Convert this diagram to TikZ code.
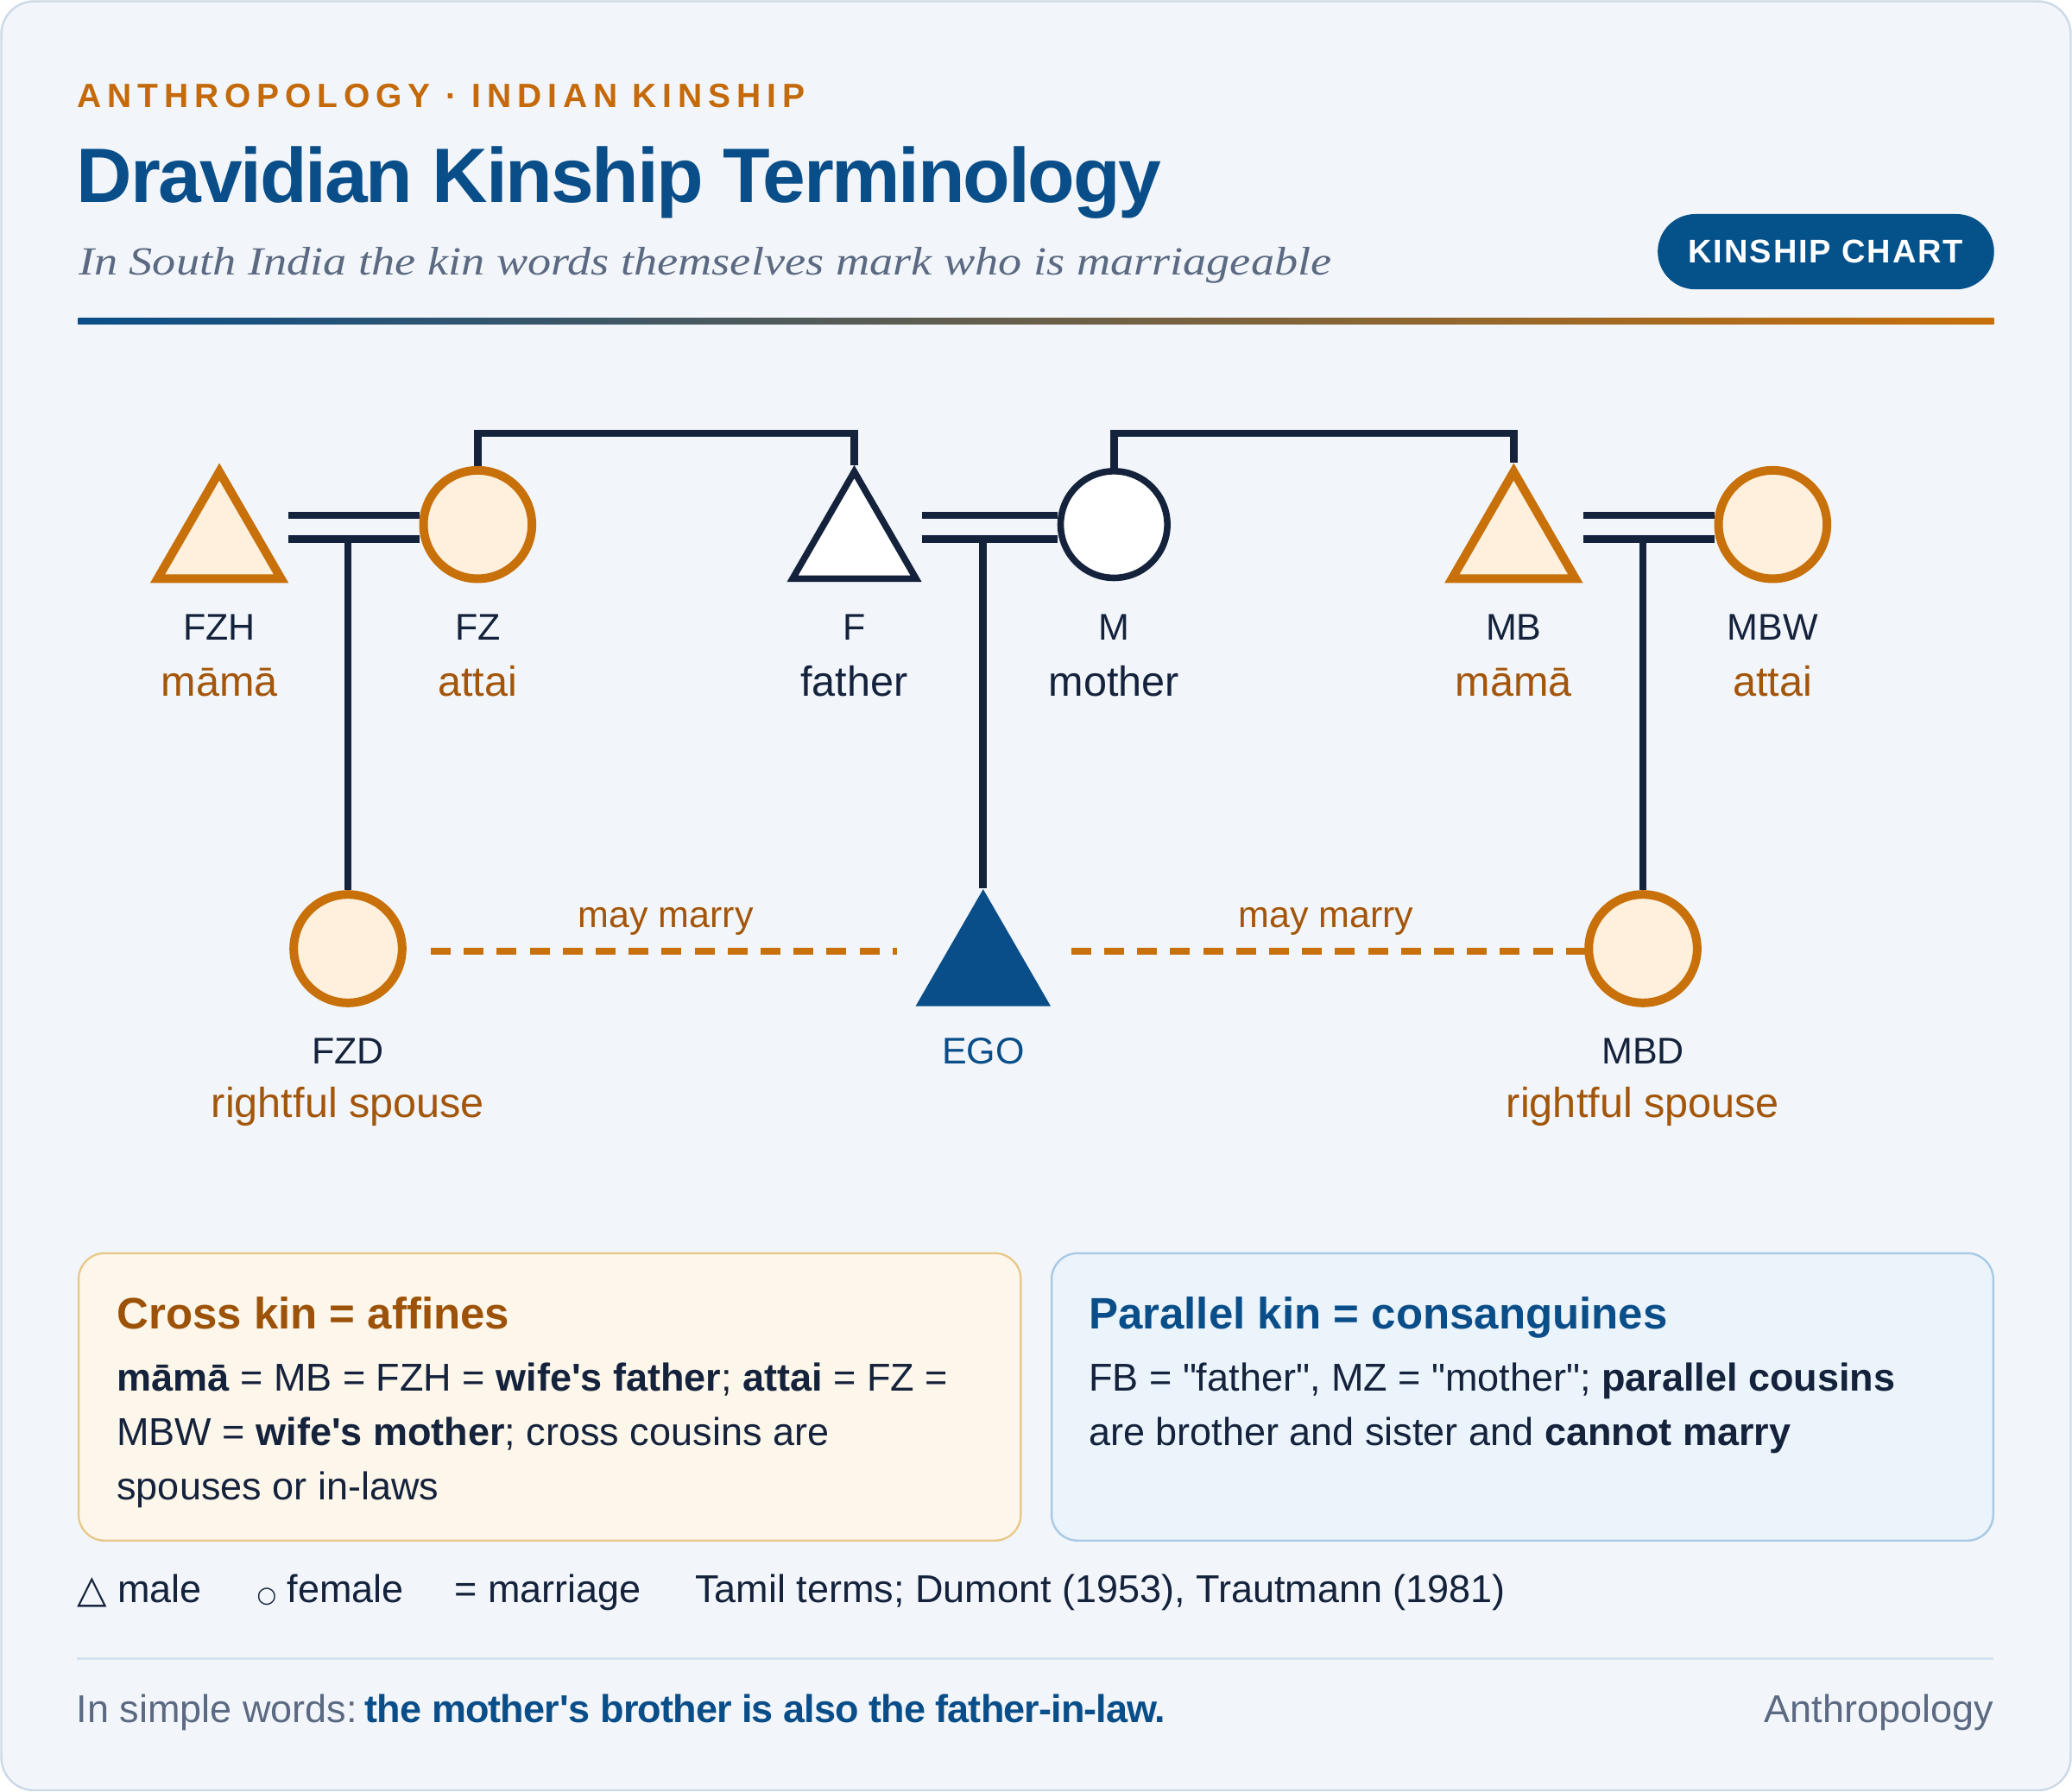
\documentclass[tikz,border=0pt]{standalone}
\usepackage{fontspec}
\usetikzlibrary{shapes.geometric,calc}
\setmainfont{Liberation Sans}
\newfontfamily\serifit{Liberation Serif}[FakeStretch=1.175]
\newfontfamily\djv{DejaVu Sans}
\definecolor{navy}{HTML}{14223C}
\definecolor{tblue}{HTML}{0A4E89}
\definecolor{orng}{HTML}{C8700A}
\definecolor{orfill}{HTML}{FEF0DD}
\definecolor{brn}{HTML}{A3560B}
\definecolor{eyeor}{HTML}{C46A0A}
\definecolor{subgray}{HTML}{5B6A82}
\definecolor{cardbg}{HTML}{F2F6FA}
\definecolor{cardln}{HTML}{CCD9E6}
\definecolor{xfill}{HTML}{FDF6EA}
\definecolor{xline}{HTML}{E8C98C}
\definecolor{xhead}{HTML}{9C5208}
\definecolor{pfill}{HTML}{EBF3FB}
\definecolor{pline}{HTML}{A9C9E6}
\definecolor{sepc}{HTML}{D5E3F1}
\definecolor{badgec}{HTML}{05518A}
\pgfdeclarelayer{bg}
\pgfsetlayers{bg,main}
\begin{document}
\begin{tikzpicture}[x=0.7653pt,y=-0.7653pt,
  txt/.style={inner sep=0pt, outer sep=0pt},
  conn/.style={draw=navy, line width=4.4pt},
  dashline/.style={draw=orng, line width=4pt, dash pattern=on 11.5pt off 7.6pt},
  male/.style={regular polygon, regular polygon sides=3, minimum size=82.6pt, inner sep=0pt},
  fem/.style={circle, minimum size=62.8pt, inner sep=0pt},
  crossp/.style={draw=orng, fill=orfill, line width=5pt},
  parap/.style={draw=navy, fill=white, line width=3.8pt},
  code/.style={txt, anchor=base, font=\fontsize{21.5pt}{24pt}\selectfont, text=navy},
  term/.style={txt, anchor=base, font=\fontsize{24.3pt}{28pt}\selectfont, text=brn},
  body/.style={txt, anchor=base west, font=\fontsize{22.5pt}{28pt}\selectfont, text=navy},
  head/.style={txt, anchor=base west, font=\fontsize{25.5pt}{30pt}\selectfont\bfseries},
  marry/.style={txt, anchor=base, font=\fontsize{21.5pt}{24pt}\selectfont, text=brn}
]
\useasboundingbox (0,0) rectangle (1568,1356);
\begin{pgfonlayer}{bg}
  \fill[white] (0,0) rectangle (1568,1356);
  \draw[draw=cardln, fill=cardbg, line width=1.2pt, rounded corners=19pt] (1,1) rectangle (1567,1355);
\end{pgfonlayer}

% header
\node[txt, anchor=base west, text=eyeor, font=\fontsize{19.5pt}{22pt}\selectfont\bfseries\addfontfeature{LetterSpace=17.5}] (eyebrow) at (58.7,81.2) {ANTHROPOLOGY · INDIAN KINSHIP};
\node[txt, anchor=base west, text=tblue, font=\fontsize{44.7pt}{50pt}\selectfont\bfseries\addfontfeature{LetterSpace=-2.5}] (title) at (58,153.5) {Dravidian Kinship Terminology};
\node[txt, anchor=base west, text=subgray, font=\serifit\itshape\fontsize{23.1pt}{28pt}\selectfont] (subtitle) at (59.5,207.8) {In South India the kin words themselves mark who is marriageable};
\node[fill=badgec, rounded corners=21.8pt, minimum width=194.8pt, minimum height=43.6pt, inner sep=0pt, text=white, font=\fontsize{19pt}{22pt}\selectfont\bfseries\addfontfeature{LetterSpace=5}] (badge) at (1381.75,190.5) {KINSHIP CHART};
\shade[left color=tblue, right color=orng] (59,241) rectangle (1509,245.5);

% persons
\node[male,crossp] (FZH) at (166,411) {};
\node[fem,crossp] (FZ) at (361.5,397) {};
\node[male,parap] (F) at (646.5,411) {};
\node[fem,parap,minimum size=61.8pt] (M) at (843,397) {};
\node[male,crossp] (MB) at (1145.5,411) {};
\node[fem,crossp] (MBW) at (1341.5,397) {};
\node[fem,crossp] (FZD) at (263.3,718) {};
\node[male,fill=tblue,minimum size=90.3pt] (EGO) at (744,732) {};
\node[fem,crossp] (MBD) at (1243.3,718) {};

\coordinate (sib) at (0,328);
\coordinate (mA) at (0,390);
\coordinate (mB) at (0,408);
\coordinate (d1a) at (326,720);
\coordinate (d1b) at (678.5,720);
\coordinate (d2a) at (810.6,720);
\coordinate (d2b) at (1200,720);

\begin{pgfonlayer}{bg}
  \draw[conn] (FZ.north) -- (FZ.north |- sib) -- (F.corner 1 |- sib) -- (F.corner 1);
  \draw[conn] (M.north) -- (M.north |- sib) -- (MB.corner 1 |- sib) -- (MB.corner 1);
  \foreach \a/\b/\c in {FZH/FZ/FZD, F/M/EGO, MB/MBW/MBD}{
    \draw[conn] (\a.corner 3 |- mA) -- (\b.west |- mA);
    \draw[conn] (\a.corner 3 |- mB) -- (\b.west |- mB);
    \draw[conn] (\c.north |- mB) -- (\c.north);
  }
  \draw[dashline] (d1a) -- (d1b);
  \draw[dashline] (d2a) -- (d2b);
\end{pgfonlayer}

\node[marry] (mm1) at (503.9,702) {may marry};
\node[marry] (mm2) at (1003.5,702) {may marry};

% labels
\node[code] (cFZH) at (166,484.6) {FZH};
\node[term] (tFZH) at (166,527) {māmā};
\node[code] (cFZ) at (361.5,484.6) {FZ};
\node[term] (tFZ) at (361.5,527) {attai};
\node[code] (cF) at (646.5,484.6) {F};
\node[term, text=navy] (tF) at (646.5,527) {father};
\node[code] (cM) at (843,484.6) {M};
\node[term, text=navy] (tM) at (843,527) {mother};
\node[code] (cMB) at (1145.5,484.6) {MB};
\node[term] (tMB) at (1145.5,527) {māmā};
\node[code] (cMBW) at (1341.5,484.6) {MBW};
\node[term] (tMBW) at (1341.5,527) {attai};
\node[code] (cFZD) at (263.3,805) {FZD};
\node[term] (tFZD) at (263.3,846) {rightful spouse};
\node[code, text=tblue] (cEGO) at (744,805) {EGO};
\node[code] (cMBD) at (1243.3,805) {MBD};
\node[term] (tMBD) at (1243.3,846) {rightful spouse};

% boxes
\draw[draw=xline, fill=xfill, line width=1.2pt, rounded corners=15pt] (59.5,948.5) rectangle (772.5,1166);
\draw[draw=pline, fill=pfill, line width=1.2pt, rounded corners=15pt] (795.8,948.5) rectangle (1508.4,1166);
\node[head, text=xhead] (xh) at (88.5,1006) {Cross kin = affines};
\node[body] (x1) at (88.5,1053) {\textbf{māmā} = MB = FZH = \textbf{wife\textquotesingle s father}; \textbf{attai} = FZ =};
\node[body] (x2) at (88.5,1094) {MBW = \textbf{wife\textquotesingle s mother}; cross cousins are};
\node[body] (x3) at (88.5,1135) {spouses or in-laws};
\node[head, text=tblue] (ph) at (824,1006) {Parallel kin = consanguines};
\node[body] (p1) at (824,1053) {FB = \textquotedbl father\textquotedbl, MZ = \textquotedbl mother\textquotedbl; \textbf{parallel cousins}};
\node[body] (p2) at (824,1094) {are brother and sister and \textbf{cannot marry}};

% legend
\node[body] (lg1) at (58.3,1213) {{\djv △} male};
\node[body] (lg2) at (194.5,1213) {{\djv\fontsize{13pt}{15pt}\selectfont ○} female};
\node[body] (lg3) at (344,1213) {= marriage};
\node[body] (lg4) at (526,1213) {Tamil terms; Dumont (1953), Trautmann (1981)};

\draw[draw=sepc, line width=1.3pt] (58,1255.5) -- (1508.6,1255.5);

\node[body, text=subgray] (foot) at (58,1303.5) {In simple words:\hspace{0.2em}\textcolor{tblue}{\bfseries\addfontfeature{LetterSpace=-2} the mother\textquotesingle s brother is also the father-in-law.}};
\node[body, anchor=base east, text=subgray] (brand) at (1508.6,1303.5) {Anthropology};
\end{tikzpicture}
\end{document}
